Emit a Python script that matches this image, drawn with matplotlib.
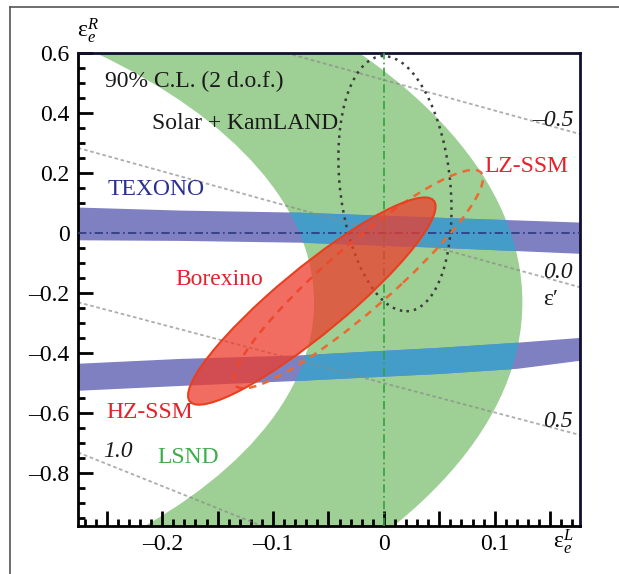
import matplotlib.pyplot as plt
from matplotlib.patches import Ellipse, PathPatch
from matplotlib.path import Path
from matplotlib.transforms import Affine2D
from matplotlib.ticker import FixedLocator, FixedFormatter, MultipleLocator
from matplotlib.lines import Line2D

plt.rcParams['font.family'] = ['Liberation Serif', 'DejaVu Serif']
plt.rcParams['mathtext.fontset'] = 'custom'
plt.rcParams['mathtext.rm'] = 'Liberation Serif'
plt.rcParams['mathtext.it'] = 'Liberation Serif:italic'

# ---- data ----
# LSND allowed ring (elliptical annulus), semi-axes (eL, eR)
lsnd_center = (-0.73, -0.23)
lsnd_outer = (0.855, 1.48)
lsnd_inner = (0.667, 1.17)

# TEXONO bands
tex_up_x = [-0.276, -0.184, -0.076, 0.05, 0.177]
tex_up_top = [0.087, 0.077, 0.07, 0.053, 0.037]
tex_up_bot = [-0.022, -0.024, -0.03, -0.047, -0.067]
tex_lo_x = [-0.276, -0.184, -0.076, 0.05, 0.12, 0.177]
tex_lo_top = [-0.433, -0.417, -0.405, -0.38, -0.363, -0.347]
tex_lo_bot = [-0.523, -0.507, -0.49, -0.467, -0.45, -0.423]

# Solar + KamLAND contour (dotted)
solar_center = (0.01, 0.165)
solar_w, solar_h, solar_angle = 0.10, 0.85, 1.4

# Borexino HZ-SSM (filled) and LZ-SSM (dashed)
hz_center = (-0.065, -0.226)
hz_w, hz_h, hz_angle = 0.72, 0.088, 73.3
lz_center = (-0.023, -0.153)
lz_w, lz_h, lz_angle = 0.757, 0.084, 73.9

# eps' iso-lines: labels and end points
eps_labels = ['–0.5', '0.0', '0.5', '1.0']
eps_x0 = [-0.088, -0.276, -0.276, -0.276]
eps_y0 = [0.6, 0.284, -0.23, -0.73]
eps_x1 = [0.177, 0.177, 0.177, -0.11]
eps_y1 = [0.33, -0.18, -0.672, -0.975]

x_major = [-0.25, -0.2, -0.15, -0.1, -0.05, 0, 0.05, 0.1, 0.15]
x_labels = ['', '–0.2', '', '–0.1', '', '0', '', '0.1', '']
y_major = [0.6, 0.4, 0.2, 0, -0.2, -0.4, -0.6, -0.8]
y_labels = ['0.6', '0.4', '0.2', '0', '–0.2', '–0.4', '–0.6', '–0.8']

green = '#9ecf95'
blue = '#7e80c2'
teal = '#439dc8'
red = '#ee3c2c'

fig = plt.figure(figsize=(6.19, 5.74), dpi=100)
ax = fig.add_axes([78/619, 48/574, 502/619, 473/574])
ax.set_xlim(-0.276, 0.177)
ax.set_ylim(-0.975, 0.6)

# LSND ring
circ = Path.unit_circle()
outer = Affine2D().scale(*lsnd_outer).translate(*lsnd_center).transform_path(circ)
inner = Affine2D().scale(lsnd_inner[0], -lsnd_inner[1]).translate(*lsnd_center).transform_path(circ)
ring = PathPatch(Path.make_compound_path(outer, inner), facecolor=green,
                 edgecolor='none', zorder=1)
ax.add_patch(ring)

# TEXONO, with the part inside LSND drawn in teal
for bx, bt, bb in [(tex_up_x, tex_up_top, tex_up_bot), (tex_lo_x, tex_lo_top, tex_lo_bot)]:
    ax.fill_between(bx, bb, bt, color=blue, lw=0, zorder=2)
    t = ax.fill_between(bx, bb, bt, color=teal, lw=0, zorder=2.1)
    t.set_clip_path(ring)

# eps' lines
for i in range(len(eps_labels)):
    ax.plot([eps_x0[i], eps_x1[i]], [eps_y0[i], eps_y1[i]], color='#8a8a8a',
            lw=1.3, ls=(0, (2, 1.5)), alpha=0.7, zorder=2.5)

# reference axes lines
ax.axhline(0, color='#2b3a80', lw=1.2, ls=(0, (5, 2, 1, 2)), zorder=3)
ax.axvline(0, color='#2fa43c', lw=1.2, ls=(0, (5, 2, 1, 2)), zorder=3)

# Solar + KamLAND
ax.add_patch(Ellipse(solar_center, solar_w, solar_h, angle=solar_angle, fill=False,
                     edgecolor='#3a3a3a', lw=1.8, ls=(0, (1, 2)), zorder=3))
# LZ-SSM
ax.add_patch(Ellipse(lz_center, lz_w, lz_h, angle=lz_angle, fill=False,
                     edgecolor='#ec6a30', lw=1.8, ls=(0, (3, 2.5)), zorder=3))
# HZ-SSM filled
ax.add_patch(Ellipse(hz_center, hz_w, hz_h, angle=hz_angle, facecolor=red,
                     edgecolor='none', alpha=0.75, zorder=4))
ax.add_patch(Ellipse(hz_center, hz_w, hz_h, angle=hz_angle, fill=False,
                     edgecolor='#e8401e', lw=1.5, zorder=4.1))

# labels
fs = 17
ax.text(-0.2517, 0.487, '90% C.L. (2 d.o.f.)', fontsize=fs, color='#1a1a1a')
ax.text(-0.2093, 0.347, 'Solar + KamLAND', fontsize=fs, color='#1a1a1a')
ax.text(-0.249, 0.127, 'TEXONO', fontsize=fs, color='#2b2f8f')
ax.text(-0.1877, -0.172, 'Borexino', fontsize=fs, color='#e8202a')
ax.text(-0.25, -0.615, 'HZ-SSM', fontsize=fs, color='#e8202a')
ax.text(-0.204, -0.765, 'LSND', fontsize=fs, color='#3cae4a')
ax.text(0.0911, 0.204, 'LZ-SSM', fontsize=fs, color='#e8202a')
ax.text(0.1335, 0.357, eps_labels[0], fontsize=fs, style='italic', color='#1a1a1a')
ax.text(0.1435, -0.149, eps_labels[1], fontsize=fs, style='italic', color='#1a1a1a')
ax.text(0.1435, -0.645, eps_labels[2], fontsize=fs, style='italic', color='#1a1a1a')
ax.text(-0.2535, -0.745, eps_labels[3], fontsize=fs, style='italic', color='#1a1a1a')
ax.text(0.1435, -0.239, 'ε′', fontsize=fs, color='#1a1a1a')

fig.text(77/619, 1 - 37/574, r'$\mathrm{ε}_{\mathit{e}}^{\mathit{R}}$', fontsize=fs)
fig.text(553/619, 1 - 548/574, r'$\mathrm{ε}_{\mathit{e}}^{\mathit{L}}$', fontsize=fs)

# ticks
ax.xaxis.set_major_locator(FixedLocator(x_major))
ax.xaxis.set_major_formatter(FixedFormatter(x_labels))
ax.xaxis.set_minor_locator(MultipleLocator(0.01))
ax.yaxis.set_major_locator(FixedLocator(y_major))
ax.yaxis.set_major_formatter(FixedFormatter(y_labels))
ax.yaxis.set_minor_locator(MultipleLocator(0.05))
ax.tick_params(which='both', direction='in', top=False, right=False,
               width=2, color='black', labelsize=fs)
ax.tick_params(which='major', length=11, pad=6)
ax.tick_params(which='minor', length=5)
for s in ax.spines.values():
    s.set_linewidth(2)
ax.spines['top'].set_color('#101030')
ax.spines['right'].set_color('#101030')

# outer frame
fig.add_artist(Line2D([10/619, 1], [1 - 7/574, 1 - 7/574], transform=fig.transFigure,
                      color='#555555', lw=1.2))
fig.add_artist(Line2D([10/619, 10/619], [0, 1 - 7/574], transform=fig.transFigure,
                      color='#555555', lw=1.2))

fig.savefig('out.png', dpi=100)
